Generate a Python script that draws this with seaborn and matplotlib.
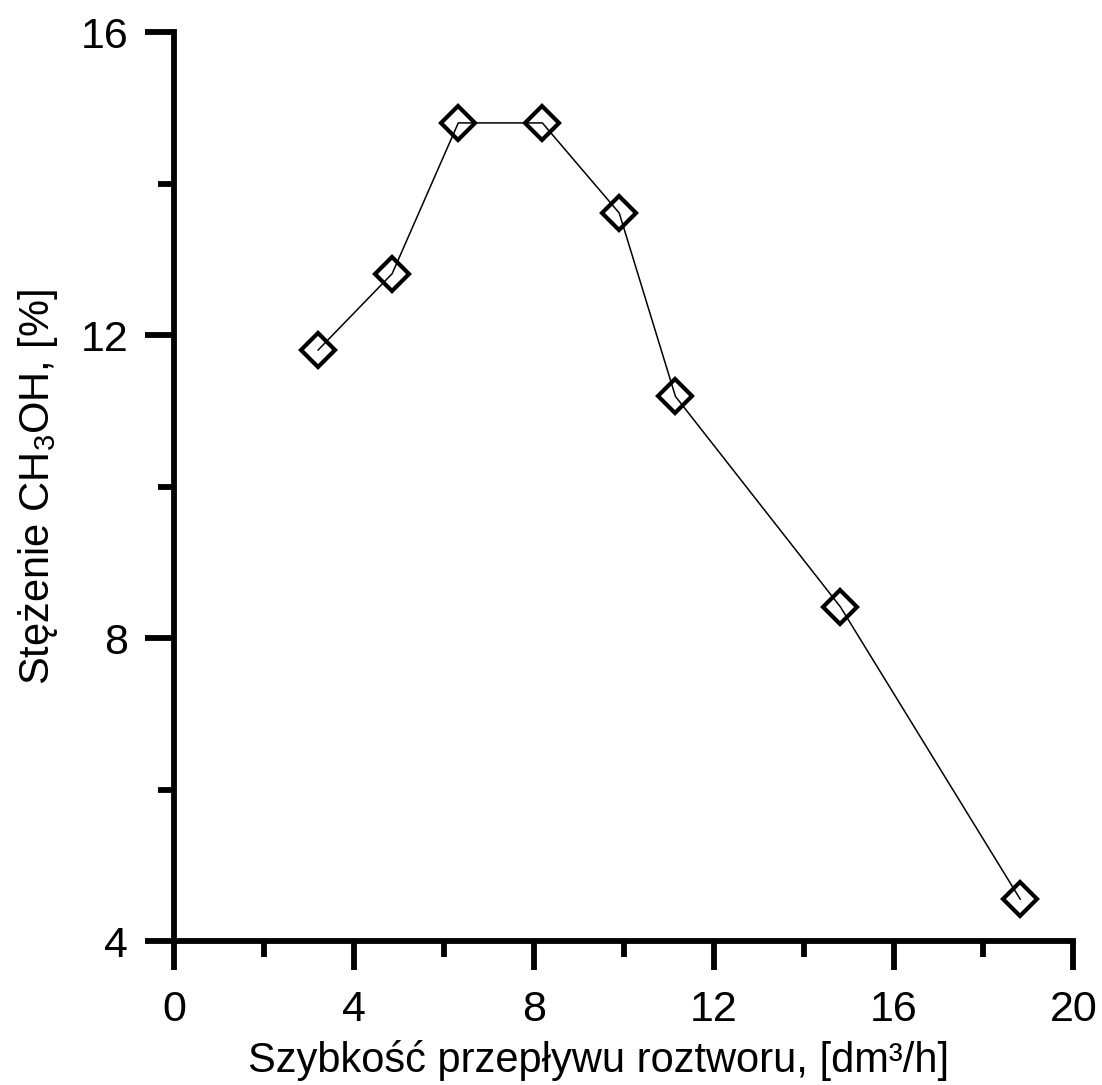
import numpy as np
import pandas as pd
import matplotlib
matplotlib.use('Agg')
import matplotlib.pyplot as plt
from matplotlib.ticker import MultipleLocator
import seaborn as sns

# flow rate [dm3/h] vs methanol concentration [%]
flow = [3.2, 4.85, 6.32, 8.19, 9.9, 11.15, 14.82, 18.82]
conc = [11.8, 12.81, 14.8, 14.8, 13.61, 11.19, 8.41, 4.55]

df = pd.DataFrame({'flow': flow, 'conc': conc})

sns.set_style('ticks')
plt.rcParams['font.family'] = ['Liberation Sans', 'DejaVu Sans']
plt.rcParams['mathtext.fontset'] = 'custom'
plt.rcParams['mathtext.rm'] = 'Liberation Sans'
plt.rcParams['mathtext.it'] = 'Liberation Sans'

fig = plt.figure(figsize=(11.02, 10.85), dpi=100)
ax = fig.add_axes([0.158, 0.1327, 0.816, 0.8378])

sns.lineplot(data=df, x='flow', y='conc', ax=ax, color='black', linewidth=1.1,
             marker='D', markersize=17, markerfacecolor='none',
             markeredgecolor='black', markeredgewidth=3, sort=False)

ax.set_xlim(0, 20)
ax.set_ylim(4, 16)
ax.xaxis.set_major_locator(MultipleLocator(4))
ax.xaxis.set_minor_locator(MultipleLocator(2))
ax.yaxis.set_major_locator(MultipleLocator(4))
ax.yaxis.set_minor_locator(MultipleLocator(2))

for s in ['top', 'right']:
    ax.spines[s].set_visible(False)
for s in ['left', 'bottom']:
    ax.spines[s].set_linewidth(4.2)
    ax.spines[s].set_color('black')
    ax.spines[s].set_capstyle('projecting')

ax.tick_params(which='major', length=21, width=4.2, labelsize=31, colors='black')
ax.tick_params(which='minor', length=11.5, width=4.2, colors='black')
ax.tick_params(axis='x', which='major', pad=14)
ax.tick_params(axis='y', which='major', pad=12)

ax.set_xlabel('Szybkość przepływu roztworu, [dm³/h]', fontsize=30, color='black')
ax.set_ylabel(r'Stężenie CH$_3$OH, [%]', fontsize=30, color='black')
ax.xaxis.set_label_coords(0.472, -0.109)
ax.yaxis.set_label_coords(-0.127, 0.5)

fig.savefig('out.png', dpi=100)
